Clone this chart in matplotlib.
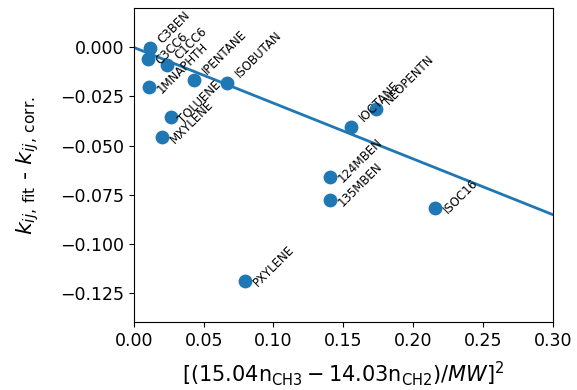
import matplotlib
matplotlib.use("Agg")
import matplotlib.pyplot as plt
import numpy as np

names = ["C3BEN", "C3CC6", "C1CC6", "1MNAPHTH", "IPENTANE", "ISOBUTAN",
         "TOLUENE", "MXYLENE", "IOCTANE", "NEOPENTN", "124MBEN", "135MBEN",
         "ISOC16", "PXYLENE"]
x_vals = [0.0115, 0.0100, 0.0236, 0.0107, 0.0430, 0.0666,
          0.0265, 0.0200, 0.1554, 0.1733, 0.1403, 0.1403,
          0.2155, 0.0795]
y_vals = [-0.0005, -0.0060, -0.0087, -0.0204, -0.0168, -0.0179,
          -0.0357, -0.0459, -0.0403, -0.0316, -0.0658, -0.0780,
          -0.0816, -0.1189]
slope = -0.284

# which side of its marker each label sits on
label_side = ["up", "down", "up", "down", "up", "up",
              "down", "down", "up", "up", "down", "down",
              "down", "down"]
side_offset = {"up": (4, 2), "down": (4, -6)}

fig = plt.figure(figsize=(5.77, 3.90), dpi=100)
ax = fig.add_axes([0.232, 0.174, 0.726, 0.805])

ax.scatter(x_vals, y_vals, s=80, color="#1f77b4", zorder=3)
xl = np.array([0.0, 0.30])
ax.plot(xl, slope * xl, color="#1f77b4", lw=2)

for n, xv, yv, side in zip(names, x_vals, y_vals, label_side):
    ax.annotate(n, (xv, yv), xytext=side_offset[side], textcoords="offset points",
                rotation=45, ha="left", va="bottom", fontsize=8.5,
                zorder=4)

ax.set_xlim(0, 0.30)
ax.set_ylim(-0.14, 0.02)
ax.set_xticks(np.arange(0, 0.301, 0.05))
ax.set_yticks([0.0, -0.025, -0.05, -0.075, -0.1, -0.125])
ax.tick_params(labelsize=12.5)
ax.set_xlabel(r"$[(15.04\mathrm{n_{CH3}}-14.03\mathrm{n_{CH2}})/MW]^2$",
              fontsize=15, labelpad=7)
ax.set_ylabel(r"$k_{ij,\,\mathrm{fit}}$ - $k_{ij,\,\mathrm{corr.}}$",
              fontsize=16, labelpad=14)

fig.savefig("out.png", dpi=100)
